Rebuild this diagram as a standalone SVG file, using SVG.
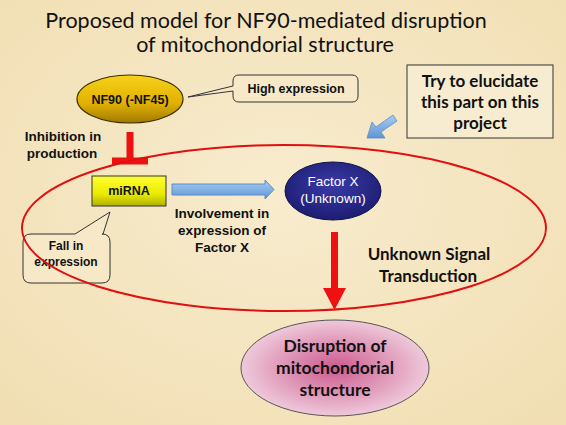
<svg xmlns="http://www.w3.org/2000/svg" width="566" height="425" viewBox="0 0 566 425">
<defs>
<radialGradient id="bg" cx="50%" cy="45%" r="75%">
<stop offset="0" stop-color="#f8ecce"/>
<stop offset="1" stop-color="#f1deb2"/>
</radialGradient>
<linearGradient id="gold" x1="0" y1="0" x2="0" y2="1">
<stop offset="0" stop-color="#f7d21a"/>
<stop offset="0.6" stop-color="#e0b000"/>
<stop offset="1" stop-color="#a07800"/>
</linearGradient>
<linearGradient id="yel" x1="0" y1="0" x2="0" y2="1">
<stop offset="0" stop-color="#ffff30"/>
<stop offset="0.6" stop-color="#eaea00"/>
<stop offset="1" stop-color="#b0b000"/>
</linearGradient>
<linearGradient id="blu" x1="0" y1="0" x2="0" y2="1">
<stop offset="0" stop-color="#a8cdf2"/>
<stop offset="1" stop-color="#5f95d6"/>
</linearGradient>
<radialGradient id="navy" cx="50%" cy="40%" r="60%">
<stop offset="0" stop-color="#3a3aa8"/>
<stop offset="1" stop-color="#1d1d72"/>
</radialGradient>
<radialGradient id="pink" cx="50%" cy="50%" r="55%">
<stop offset="0" stop-color="#cc5a8e"/>
<stop offset="1" stop-color="#f2d4e2"/>
</radialGradient>
<style>
.t{font-family:"Lato","Open Sans","Liberation Sans",sans-serif;fill:#111}
.b{font-family:"Liberation Sans",Arial,sans-serif;font-weight:bold;fill:#111}
.c{font-family:"Lato","Open Sans","Liberation Sans",sans-serif;font-weight:bold;fill:#111}
.call{fill:#f7e9c8;stroke:#333;stroke-width:1}
</style>
</defs>
<rect width="566" height="425" fill="url(#bg)"/>
<g id="title">
<text class="t" x="266" y="28" font-size="21.5" text-anchor="middle">Proposed model for NF90-mediated disruption</text>
<text class="t" x="265" y="52" font-size="21.5" text-anchor="middle">of mitochondorial structure</text>
</g>
<g id="connectors">
<path d="M130 132 V158 M112 161 H148" stroke="#ee1111" stroke-width="7" fill="none"/>
<path d="M172 184 H265 V180 L274 189.5 L265 199 V195 H172 Z" fill="url(#blu)" stroke="#5a8ccc" stroke-width="1"/>
<path d="M331 232 H338 V288 H346 L334.5 310 L323 288 H331 Z" fill="#ee1111"/>
<path d="M393 115 L397 121 L381 132 L385 138 L367 138 L372 122 L376 127 Z" fill="url(#blu)" stroke="#5a8ccc" stroke-width="0.8"/>
</g>
<g id="nf90">
<ellipse cx="130" cy="99" rx="53" ry="24" fill="url(#gold)" stroke="#3a2e00" stroke-width="1.2"/>
<text class="b" x="130" y="104" font-size="12.5" text-anchor="middle">NF90 (-NF45)</text>
</g>
<g id="high-expression">
<path class="call" d="M239 75 H352 Q358 75 358 81 V96 Q358 102 352 102 H239 Q233 102 233 96 V91 L188 97 L233 86 V81 Q233 75 239 75 Z"/>
<text class="b" x="296" y="93" font-size="12.5" text-anchor="middle">High expression</text>
</g>
<g id="inhibition-label">
<text class="b" x="63" y="141" font-size="13.5" text-anchor="middle">Inhibition in</text>
<text class="b" x="62" y="158" font-size="13.5" text-anchor="middle">production</text>
</g>
<g id="mirna">
<rect x="92" y="176" width="74" height="30" fill="url(#yel)" stroke="#333" stroke-width="1"/>
<text class="b" x="129" y="195" font-size="12.5" text-anchor="middle">miRNA</text>
</g>
<g id="involvement-label">
<text class="b" x="222" y="218" font-size="13.5" text-anchor="middle">Involvement in</text>
<text class="b" x="222" y="235" font-size="13.5" text-anchor="middle">expression of</text>
<text class="b" x="222" y="252" font-size="13.5" text-anchor="middle">Factor X</text>
</g>
<g id="fall-in-expression">
<path class="call" d="M33 234 H75 L110 212 L103 234 H102 Q110 234 110 242 V275 Q110 283 102 283 H31 Q23 283 23 275 V242 Q23 234 31 234 Z"/>
<text class="b" x="66" y="250" font-size="12" text-anchor="middle">Fall in</text>
<text class="b" x="66" y="266" font-size="12" text-anchor="middle">expression</text>
</g>
<g id="factor-x">
<ellipse cx="333" cy="191" rx="48" ry="29" fill="url(#navy)" stroke="#111144" stroke-width="1"/>
<text x="333" y="186" font-family="Liberation Sans,Arial,sans-serif" font-size="13.5" fill="#ffffff" text-anchor="middle">Factor X</text>
<text x="333" y="203" font-family="Liberation Sans,Arial,sans-serif" font-size="13.5" fill="#ffffff" text-anchor="middle">(Unknown)</text>
</g>
<g id="signal-label">
<text class="c" x="429" y="260" font-size="17" text-anchor="middle">Unknown Signal</text>
<text class="c" x="428" y="282" font-size="17" text-anchor="middle">Transduction</text>
</g>
<g id="cell-region">
<ellipse cx="284" cy="228" rx="262" ry="83" fill="none" stroke="#e01010" stroke-width="2"/>
</g>
<g id="disruption">
<ellipse cx="335" cy="368" rx="94" ry="48" fill="url(#pink)" stroke="#555" stroke-width="1"/>
<text class="c" x="335" y="352" font-size="17.5" text-anchor="middle">Disruption of</text>
<text class="c" x="335" y="374" font-size="17.5" text-anchor="middle">mitochondorial</text>
<text class="c" x="335" y="396" font-size="17.5" text-anchor="middle">structure</text>
</g>
<g id="elucidate-box">
<rect x="407" y="65" width="146" height="73" fill="#f8ecd0" stroke="#333" stroke-width="1"/>
<text class="c" x="480" y="87" font-size="17" text-anchor="middle">Try to elucidate</text>
<text class="c" x="480" y="108" font-size="17" text-anchor="middle">this part on this</text>
<text class="c" x="480" y="129" font-size="17" text-anchor="middle">project</text>
</g>
</svg>
